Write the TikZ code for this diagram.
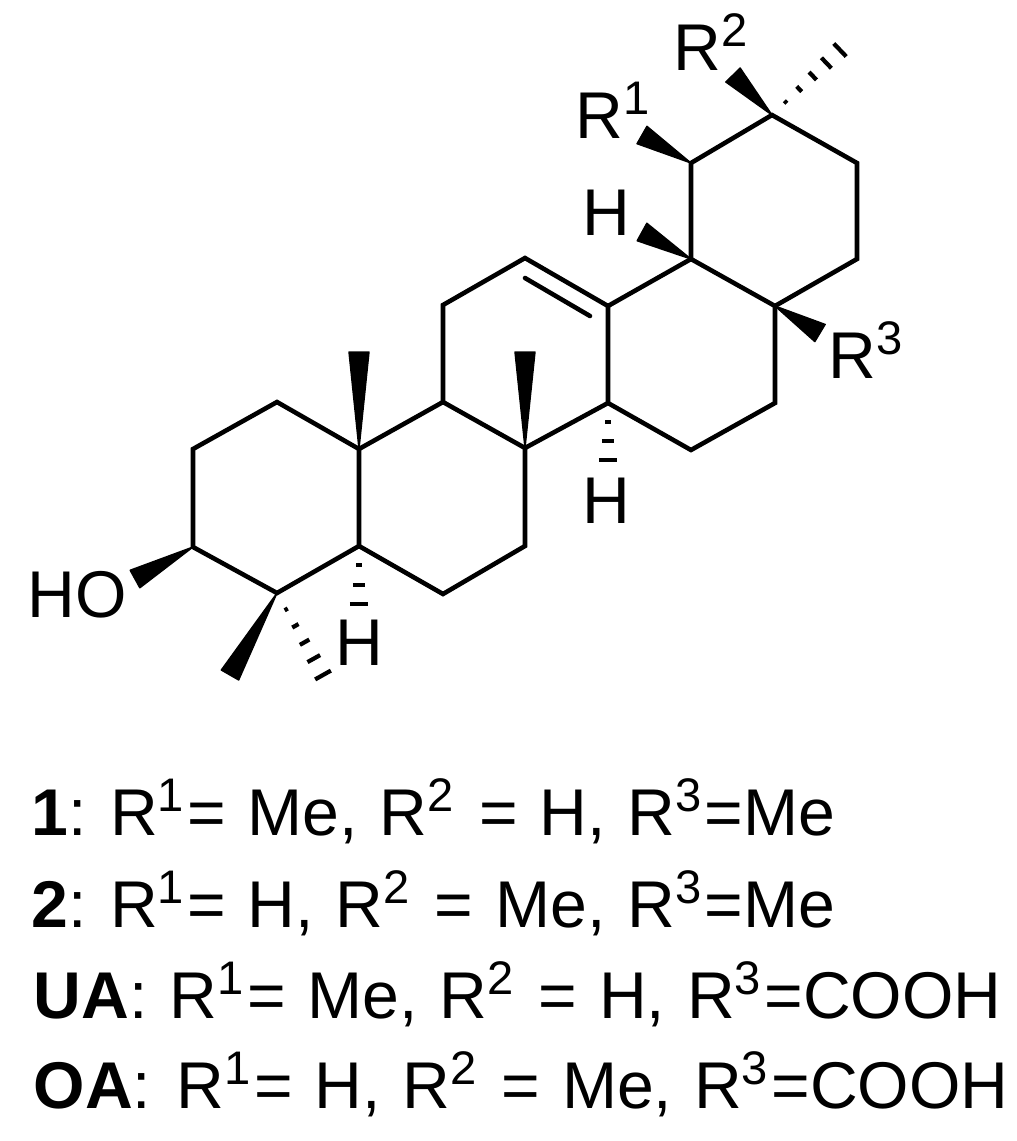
\documentclass[tikz,border=0pt]{standalone}
\usepackage{fontspec}
\setmainfont{Liberation Sans}
\usetikzlibrary{calc}
\newcommand{\supnum}[1]{\raisebox{0.36em}{\fontsize{13.4}{16}\selectfont #1}\kern0.05em\relax}
\newcommand{\legendfont}{\fontsize{18.8}{22}\selectfont\spaceskip=0.33em\relax}
\newcommand{\wedgebond}[2]{\filldraw[wedgeline] (#1) -- ($(#2)!0.1cm!90:(#1)$) -- ($(#2)!0.1cm!-90:(#1)$) -- cycle;}
\newcommand{\hashbond}[3]{\foreach \f in {#3}{
    \coordinate (hc) at ($(#1)!\f!(#2)$);
    \draw[hashline] ($(hc)!\f*0.09cm!90:(#1)$) -- ($(hc)!\f*0.09cm!-90:(#1)$);}}
\begin{document}
\begin{tikzpicture}[x=0.01cm,y=-0.01cm]
    \tikzset{bondline/.style={line width=1.3pt,line join=miter,line cap=round},
        hashline/.style={line width=1.2pt},
        wedgeline/.style={line width=0.4pt,line join=round},
        every node/.style={inner sep=0,font=\fontsize{18.8}{22}\selectfont},
        atomlabel/.style={anchor=base west},
        legendline/.style={anchor=base west,font=\legendfont}}
    \useasboundingbox (0,0) rectangle (1017,1141);
    % ring atoms
    \foreach \name/\px/\py in {c1/193/449,c2/277/402,c3/193/547,c4/277/593,c5/359/546,c6/443/594,
        c7/525/546,c8/525/448,c9/443/402,c10/359/449,c11/443/305,c12/525/258,c13/608/306,c14/608/403,
        c15/691/450,c16/775/403,c17/775/306,c18/691/259,c19/691/163,c20/772/115,c21/857/163,c22/857/259}
        \coordinate (\name) at (\px,\py);
    % free ends of wedges and hashes
    \foreach \name/\px/\py in {mea/359/352,meb/525/352,wr1/642/135,wr2/733/75,wr3/820/333,wh/642/232,
        whash/840/50,hoend/135/579,mec/230/675,hashc/323/675,hashh/359/604,hashi/608/460,
        dbla/525/278,dblb/590/316}
        \coordinate (\name) at (\px,\py);
    % skeleton
    \draw[bondline] (c3) -- (c1) -- (c2) -- (c10) -- (c5) -- (c4) -- cycle;
    \draw[bondline] (c5) -- (c6) -- (c7) -- (c8) -- (c9) -- (c10);
    \draw[bondline] (c9) -- (c11) -- (c12) -- (c13) -- (c14) -- (c8);
    \draw[bondline] (c14) -- (c15) -- (c16) -- (c17) -- (c18) -- (c13);
    \draw[bondline] (c18) -- (c19) -- (c20) -- (c21) -- (c22) -- (c17);
    \draw[bondline] (dbla) -- (dblb);
    % wedges
    \wedgebond{c10}{mea}
    \wedgebond{c8}{meb}
    \wedgebond{c19}{wr1}
    \wedgebond{c20}{wr2}
    \wedgebond{c17}{wr3}
    \wedgebond{c18}{wh}
    \wedgebond{c3}{hoend}
    \wedgebond{c4}{mec}
    % hashes
    \hashbond{c20}{whash}{0.2,0.4,0.6,0.8,1}
    \hashbond{c4}{hashc}{0.2,0.4,0.6,0.8,1}
    \hashbond{c5}{hashh}{0.33,0.67,1}
    \hashbond{c14}{hashi}{0.33,0.67,1}
    % atom labels
    \node[atomlabel] (labelro) at (575,138) {R\supnum{1}};
    \node[atomlabel] (labelrt) at (673,70) {R\supnum{2}};
    \node[atomlabel] (labelrh) at (828,378) {R\supnum{3}};
    \node[atomlabel] (labelhtop) at (582,235) {H};
    \node[atomlabel] (labelhmid) at (582,523) {H};
    \node[atomlabel] (labelhlow) at (335,665) {H};
    \node[atomlabel] (labelho) at (27,617) {HO};
    % legend
    \node[legendline] (lineone) at (31,835) {\textbf{1}:\hspace{0.354em}R\supnum{1}= Me, R\supnum{2} = H, R\supnum{3}=Me};
    \node[legendline] (linetwo) at (31,927) {\textbf{2}:\hspace{0.354em}R\supnum{1}= H, R\supnum{2} = Me, R\supnum{3}=Me};
    \node[legendline] (linethree) at (33,1018) {\textbf{UA}:\hspace{0.34em}R\supnum{1}= Me, R\supnum{2} = H, R\supnum{3}=COOH};
    \node[legendline] (linefour) at (33,1108) {\textbf{OA}:\hspace{0.39em}R\supnum{1}= H, R\supnum{2} = Me, R\supnum{3}=COOH};
\end{tikzpicture}
\end{document}
